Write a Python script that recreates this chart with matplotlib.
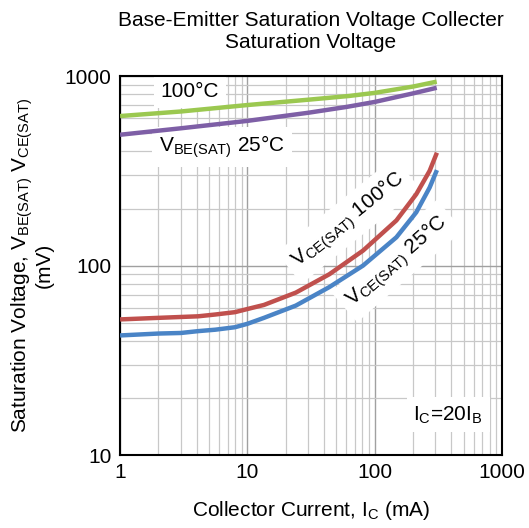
""" saturation voltage vs collector current """
from matplotlib import pyplot as plt

plt.rcParams["font.family"] = ["Liberation Sans", "DejaVu Sans"]
plt.rcParams["mathtext.fontset"] = "custom"
plt.rcParams["mathtext.rm"] = "Liberation Sans"
plt.rcParams["mathtext.it"] = "Liberation Sans"

# V_BE(SAT) 100°C
vbe100_x = [1, 3, 10, 30, 63, 100, 200, 307]
vbe100_y = [615, 650, 703, 750, 785, 815, 880, 934]
# V_BE(SAT) 25°C
vbe25_x = [1, 3, 10, 30, 60, 100, 200, 307]
vbe25_y = [490, 530, 580, 640, 687, 730, 810, 867]
# V_CE(SAT) 100°C
vce100_x = [1, 2, 4.1, 5.6, 8, 10, 13.5, 24, 44, 81, 148, 212, 270, 308]
vce100_y = [52, 53, 54, 55.2, 56.8, 59, 62, 72, 90, 120, 173, 238, 316, 394]
# V_CE(SAT) 25°C
vce25_x = [1, 2, 3, 4.1, 5.6, 8, 10, 13.5, 24, 44, 81, 148, 212, 270, 308]
vce25_y = [42.8, 43.8, 44.1, 45.1, 45.9, 47.3, 49.3, 53, 61.5, 77, 100, 141, 191, 258, 319]

fig = plt.figure(figsize=(5.29, 5.28), dpi=100)
ax = fig.add_axes([0.227, 0.138, 0.722, 0.718])

ax.plot(vbe100_x, vbe100_y, color="#9BC850", lw=3.2, solid_capstyle="butt", zorder=3)
ax.plot(vbe25_x, vbe25_y, color="#7E5FA6", lw=3.2, solid_capstyle="butt", zorder=3)
ax.plot(vce100_x, vce100_y, color="#C0504D", lw=3.2, solid_capstyle="butt", zorder=3)
ax.plot(vce25_x, vce25_y, color="#4A84C6", lw=3.2, solid_capstyle="butt", zorder=3)

ax.set_xscale("log")
ax.set_yscale("log")
ax.set_xlim(1, 1000)
ax.set_ylim(10, 1000)
ax.set_xticks([1, 10, 100, 1000])
ax.set_xticklabels(["1", "10", "100", "1000"])
ax.set_yticks([10, 100, 1000])
ax.set_yticklabels(["10", "100", "1000"])
ax.grid(True, which="major", color="#A0A0A0", lw=1.0)
ax.grid(True, which="minor", color="#C8C8C8", lw=0.9)
ax.set_axisbelow(True)
ax.tick_params(which="both", length=0, labelsize=15, pad=6)
for s in ax.spines.values():
    s.set_linewidth(1.5)
    s.set_color("black")

box = dict(facecolor="white", edgecolor="none", pad=5)
ax.text(0.183, 0.958, "100°C", transform=ax.transAxes, fontsize=15,
        ha="center", va="center", bbox=box, zorder=2)
ax.text(0.267, 0.813, r"V$_{\mathrm{BE(SAT)}}$ 25°C", transform=ax.transAxes,
        fontsize=15, ha="center", va="center", bbox=box, zorder=2)
ax.text(0.597, 0.619, r"V$_{\mathrm{CE(SAT)}}$ 100°C", transform=ax.transAxes,
        fontsize=15, ha="center", va="center", rotation=39,
        rotation_mode="anchor", bbox=box, zorder=2)
ax.text(0.725, 0.512, r"V$_{\mathrm{CE(SAT)}}$ 25°C", transform=ax.transAxes,
        fontsize=15, ha="center", va="center", rotation=41,
        rotation_mode="anchor", bbox=box, zorder=2)
ax.text(0.859, 0.106, r"I$_{\mathrm{C}}$=20I$_{\mathrm{B}}$", transform=ax.transAxes,
        fontsize=15, ha="center", va="center", bbox=box, zorder=2)

ax.set_title("Base-Emitter Saturation Voltage Collecter\nSaturation Voltage",
             fontsize=15, pad=20, linespacing=1.2)
ax.set_xlabel(r"Collector Current, I$_{\mathrm{C}}$ (mA)", fontsize=15, labelpad=12)
ax.set_ylabel(r"Saturation Voltage, V$_{\mathrm{BE(SAT)}}$ V$_{\mathrm{CE(SAT)}}$"
              "\n(mV)", fontsize=15, labelpad=8, linespacing=1.0)

fig.savefig("out.png", dpi=100)
